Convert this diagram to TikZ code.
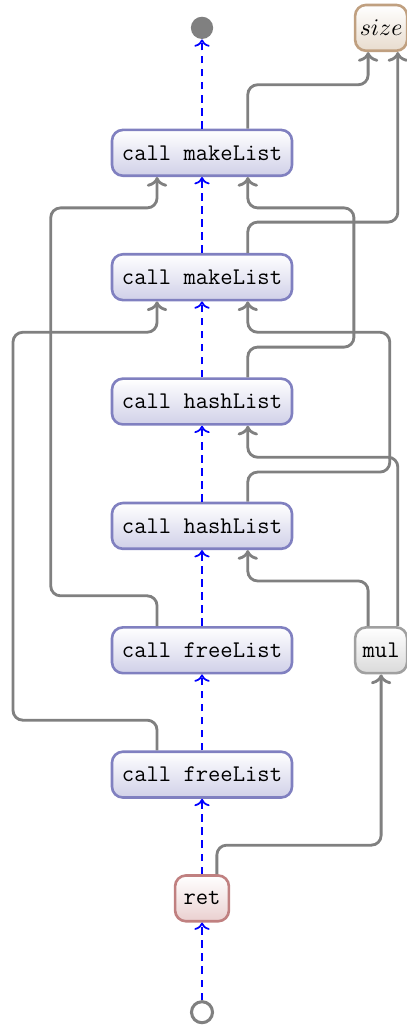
\documentclass[tikz,border=0pt]{standalone}
\usetikzlibrary{arrows.meta}

\definecolor{callline}{RGB}{128,128,192}
\definecolor{callfill}{RGB}{208,208,232}
\definecolor{retline}{RGB}{192,128,128}
\definecolor{retfill}{RGB}{234,208,208}
\definecolor{sizeline}{RGB}{192,160,128}
\definecolor{sizefill}{RGB}{232,220,206}
\definecolor{mulline}{RGB}{160,160,160}
\definecolor{mulfill}{RGB}{218,218,218}

\tikzset{
    instr/.style={draw, rounded corners=5pt, line width=1.2pt, minimum height=0.74cm,
        inner sep=2pt, font=\fontsize{11}{13}\selectfont\ttfamily},
    callbox/.style={instr, draw=callline, top color=white, bottom color=callfill, minimum width=2.91cm},
    retbox/.style={instr, draw=retline, top color=white, bottom color=retfill, minimum width=0.87cm},
    argbox/.style={instr, draw=sizeline, top color=white, bottom color=sizefill, minimum width=0.84cm,
        font=\fontsize{11}{13}\selectfont},
    mulbox/.style={instr, draw=mulline, top color=white, bottom color=mulfill, minimum width=0.84cm},
    dep/.style={->, draw=gray, line width=1.3pt, rounded corners=4.5pt},
    flow/.style={->, draw=blue, thick, dash pattern=on 3.5pt off 2.5pt},
}

\begin{document}
\begin{tikzpicture}
    \useasboundingbox (0, 0) rectangle (6.578, -16.583);

    \node[circle, fill=gray, inner sep=0pt, minimum size=0.36cm] (exit) at (3.265, -0.45) {};
    \node[argbox] (size) at (6.16, -0.45) {$size$};

    \node[callbox] (ml1) at (3.265, -2.47) {call makeList};
    \node[callbox] (ml2) at (3.265, -4.48) {call makeList};
    \node[callbox] (hl1) at (3.265, -6.49) {call hashList};
    \node[callbox] (hl2) at (3.265, -8.50) {call hashList};
    \node[callbox] (fl1) at (3.265, -10.51) {call freeList};
    \node[mulbox] (mul) at (6.16, -10.51) {mul};
    \node[callbox] (fl2) at (3.265, -12.52) {call freeList};
    \node[retbox] (ret) at (3.265, -14.52) {ret};

    \node[circle, draw=gray, fill=white, line width=1.4pt, inner sep=0pt, minimum size=0.34cm] (entry) at (3.265, -16.36) {};

    \draw[flow] (entry) -- (ret);
    \draw[flow] (ret) -- (fl2);
    \draw[flow] (fl2) -- (fl1);
    \draw[flow] (fl1) -- (hl2);
    \draw[flow] (hl2) -- (hl1);
    \draw[flow] (hl1) -- (ml2);
    \draw[flow] (ml2) -- (ml1);
    \draw[flow] (ml1) -- (exit);

    \draw[dep] ([xshift=0.74cm]ml1.north) |- (5.95, -1.37) -- ([xshift=-0.21cm]size.south);
    \draw[dep] ([xshift=0.74cm]ml2.north) |- (6.43, -3.59) -- ([xshift=0.27cm]size.south);

    \draw[dep] ([xshift=0.74cm]hl1.north) |- (5.72, -5.61) |- (4.005, -3.36) -- ([xshift=0.74cm]ml1.south);
    \draw[dep] ([xshift=0.74cm]hl2.north) |- (6.30, -7.63) |- (4.005, -5.37) -- ([xshift=0.74cm]ml2.south);

    \draw[dep] ([xshift=0.27cm]mul.north) |- (4.005, -7.39) -- ([xshift=0.74cm]hl1.south);
    \draw[dep] ([xshift=-0.21cm]mul.north) |- (4.005, -9.39) -- ([xshift=0.74cm]hl2.south);

    \draw[dep] ([xshift=-0.727cm]fl1.north) |- (0.82, -9.63) |- (2.538, -3.36) -- ([xshift=-0.727cm]ml1.south);
    \draw[dep] ([xshift=-0.727cm]fl2.north) |- (0.21, -11.64) |- (2.538, -5.37) -- ([xshift=-0.727cm]ml2.south);

    \draw[dep] ([xshift=0.24cm]ret.north) |- (6.16, -13.66) -- (mul.south);
\end{tikzpicture}
\end{document}
